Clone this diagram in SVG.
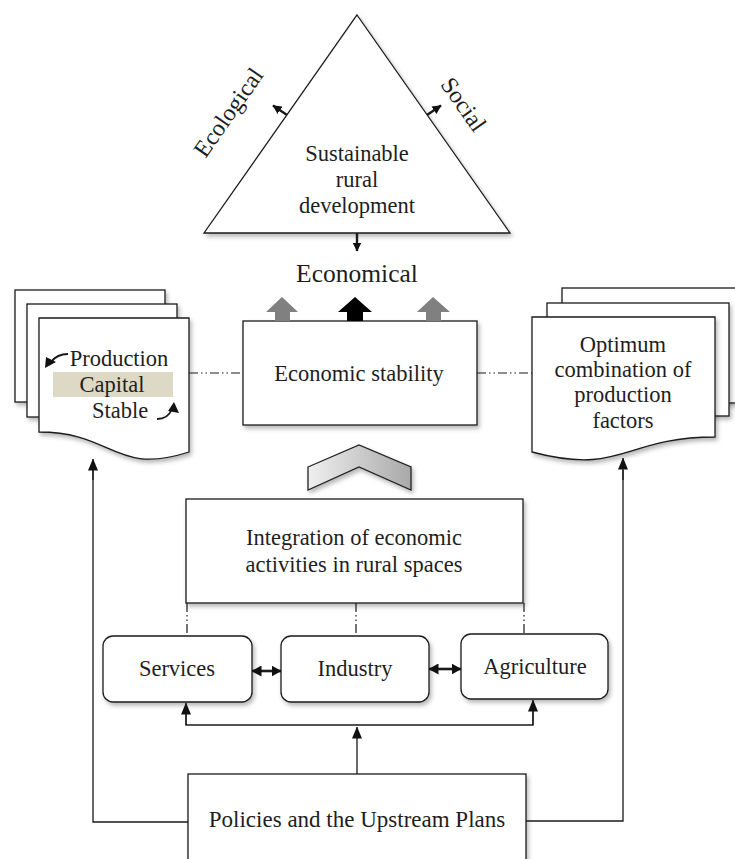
<svg xmlns="http://www.w3.org/2000/svg" width="735" height="859" viewBox="0 0 735 859">
<defs>
<style>
text{font-family:"Liberation Serif","Times New Roman",serif;fill:#1e1e1e}
.t{font-size:22.5px;text-anchor:middle}
.box{fill:#fff;stroke:#1a1a1a;stroke-width:1.3}
.ln{fill:none;stroke:#1a1a1a;stroke-width:1.3}
.dd{fill:none;stroke:#1a1a1a;stroke-width:1.2;stroke-dasharray:9 3 1.5 3 1.5 3}
</style>
<filter id="sh" x="-15%" y="-15%" width="135%" height="135%"><feDropShadow dx="2" dy="3" stdDeviation="2" flood-color="#000" flood-opacity="0.28"/></filter>
<marker id="ah" viewBox="0 0 12 10" refX="11.5" refY="5" markerWidth="12" markerHeight="10" markerUnits="userSpaceOnUse" orient="auto"><path d="M0,0 L12,5 L0,10z" fill="#111"/></marker>
<marker id="as" viewBox="0 0 9 9" refX="8.5" refY="4.5" markerWidth="9" markerHeight="9" markerUnits="userSpaceOnUse" orient="auto"><path d="M0,0 L9,4.5 L0,9z" fill="#111"/></marker>
<marker id="ad" viewBox="0 0 10 11" refX="9.5" refY="5.5" markerWidth="10" markerHeight="11" markerUnits="userSpaceOnUse" orient="auto-start-reverse"><path d="M0,0 L10,5.5 L0,11z" fill="#111"/></marker>
<linearGradient id="cg" x1="0" x2="1" y1="0" y2="0"><stop offset="0" stop-color="#efefef"/><stop offset="1" stop-color="#a9a9a9"/></linearGradient>
</defs>

<g id="triangle">
<polygon class="box" filter="url(#sh)" points="357,15 510,233 204,233"/>
<text class="t" x="357" y="161">Sustainable</text>
<text class="t" x="357" y="187">rural</text>
<text class="t" x="357" y="213">development</text>
</g>
<g id="ecological"><text class="t" style="font-size:24px" transform="translate(235,117) rotate(-55)">Ecological</text></g>
<g id="social"><text class="t" style="font-size:24px" transform="translate(457,109) rotate(55)">Social</text></g>
<g id="economical"><text class="t" style="font-size:25.5px" x="357" y="282">Economical</text></g>

<g id="left-doc">
<rect class="box" filter="url(#sh)" x="15" y="290" width="150" height="112"/>
<rect class="box" filter="url(#sh)" x="27" y="304" width="150" height="113"/>
<path class="box" filter="url(#sh)" d="M39,318 H189 V452 C114,476 114,432 39,432 Z"/>
<rect x="53" y="372" width="120" height="25" fill="#ddd9c4"/>
<text class="t" x="119" y="366">Production</text>
<text class="t" x="112" y="392">Capital</text>
<text class="t" x="120" y="418">Stable</text>
<path class="ln" style="stroke-width:1.8" d="M68,354 Q57,354 51,362"/>
<path d="M45,368 L46,357 L56,362 Z" fill="#111"/>
<path class="ln" style="stroke-width:1.8" d="M157,419 Q168,419 172,409"/>
<path d="M174,402 L179,413 L168,411 Z" fill="#111"/>
</g>

<g id="economic-stability">
<rect class="box" filter="url(#sh)" x="243" y="321" width="234" height="104"/>
<text class="t" x="359" y="381">Economic stability</text>
</g>

<g id="right-doc">
<rect class="box" filter="url(#sh)" x="562" y="288" width="190" height="115"/>
<rect class="box" filter="url(#sh)" x="547" y="303" width="182" height="113"/>
<path class="box" filter="url(#sh)" d="M532,317 H715 V437 C623,437 623,476 532,452 Z"/>
<text class="t" x="623" y="352">Optimum</text>
<text class="t" x="623" y="377">combination of</text>
<text class="t" x="623" y="402">production</text>
<text class="t" x="623" y="428">factors</text>
</g>

<g id="up-arrows">
<polygon fill="#808080" points="275,321 275,312 266,312 282,297 298,312 290,312 290,321"/>
<polygon fill="#000" points="347,321 347,312 338,312 355,297 372,312 363,312 363,321"/>
<polygon fill="#808080" points="426,321 426,312 417,312 433,297 450,312 441,312 441,321"/>
</g>

<g id="chevron">
<polygon fill="url(#cg)" stroke="#222" stroke-width="1.3" filter="url(#sh)" points="308,467 359,445 411,467 411,490 359,467 308,490"/>
</g>

<g id="integration">
<rect class="box" filter="url(#sh)" x="186" y="499" width="337" height="104"/>
<text class="t" x="354" y="545">Integration of economic</text>
<text class="t" x="354" y="572">activities in rural spaces</text>
</g>

<g id="services">
<rect class="box" filter="url(#sh)" x="103" y="636" width="149" height="66" rx="10"/>
<text class="t" x="177" y="676">Services</text>
</g>
<g id="industry">
<rect class="box" filter="url(#sh)" x="281" y="636" width="148" height="66" rx="10"/>
<text class="t" x="355" y="676">Industry</text>
</g>
<g id="agriculture">
<rect class="box" filter="url(#sh)" x="461" y="634" width="147" height="65" rx="10"/>
<text class="t" x="535" y="674">Agriculture</text>
</g>

<g id="policies">
<rect class="box" filter="url(#sh)" x="188" y="774" width="338" height="100"/>
<text class="t" style="font-size:23px" x="357" y="827">Policies and the Upstream Plans</text>
</g>

<g id="connectors">
<line class="ln" style="stroke-width:2.4" x1="287" y1="115" x2="273" y2="105.5" marker-end="url(#as)"/>
<line class="ln" style="stroke-width:2.4" x1="427" y1="115" x2="441" y2="105.5" marker-end="url(#as)"/>
<line class="ln" style="stroke-width:2.4" x1="357" y1="233" x2="357" y2="251" marker-end="url(#as)"/>
<line class="dd" x1="189" y1="373" x2="243" y2="373"/>
<line class="dd" x1="477" y1="373" x2="532" y2="373"/>
<line class="dd" x1="187" y1="603" x2="187" y2="636"/>
<line class="dd" x1="356" y1="603" x2="356" y2="636"/>
<line class="dd" x1="524" y1="603" x2="524" y2="634"/>
<line class="ln" style="stroke-width:2.6" x1="252" y1="671" x2="281" y2="671" marker-start="url(#ad)" marker-end="url(#ad)"/>
<line class="ln" style="stroke-width:2.6" x1="429" y1="669" x2="461" y2="669" marker-start="url(#ad)" marker-end="url(#ad)"/>
<polyline class="ln" points="186,712 186,725 533,725 533,710"/>
<line class="ln" x1="186" y1="725" x2="186" y2="703" marker-end="url(#ah)"/>
<line class="ln" x1="533" y1="725" x2="533" y2="700" marker-end="url(#ah)"/>
<line class="ln" x1="357" y1="774" x2="357" y2="727" marker-end="url(#ah)"/>
<polyline class="ln" points="188,822 93,822 93,470"/>
<line class="ln" x1="93" y1="480" x2="93" y2="459" marker-end="url(#ah)"/>
<polyline class="ln" points="526,821 623,821 623,470"/>
<line class="ln" x1="623" y1="480" x2="623" y2="458" marker-end="url(#ah)"/>
</g>
</svg>
